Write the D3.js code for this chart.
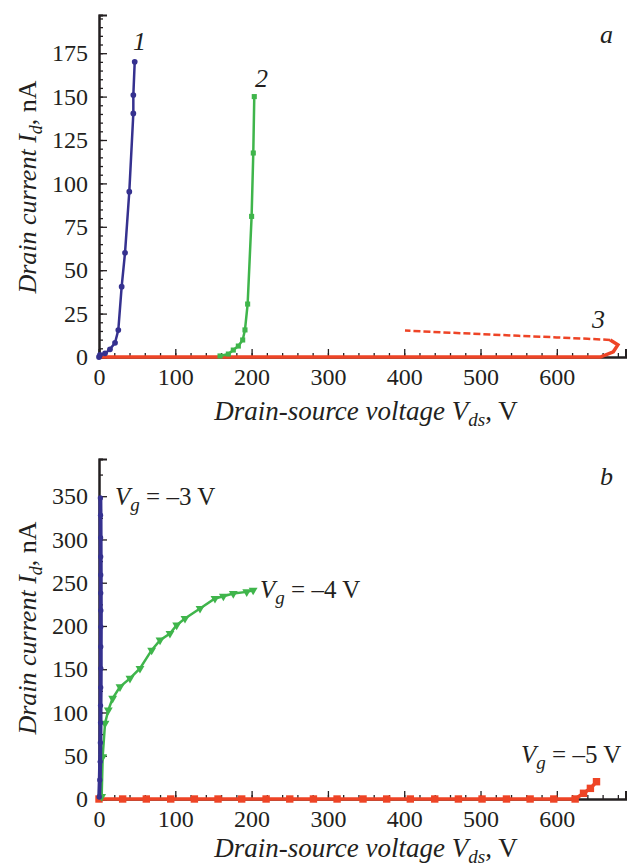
<!DOCTYPE html>
<html lang="en">
  <head>
    <meta charset="UTF-8" />
    <title>drain current vs drain-source voltage</title>
    <style>
      body { margin: 0; background: #fff; }
      text { font-family: "Liberation Serif", "Times New Roman", serif; fill: #231f20; }
    </style>
  </head>
  <body>
    <svg id="svg" width="629" height="867"></svg>

    <script src="https://d3js.org/d3.v7.min.js"></script>
    <script>
      // ---- panel a data (V, nA) ----
      const curve1V = [0, 1.3, 7.9, 14.4, 21, 25.3, 29.7, 34.1, 39.7, 45, 45, 46.8];
      const curve1I = [0, 1.2, 2.1, 4.4, 8.2, 15.5, 40.5, 60, 95.2, 140.3, 150.9, 170];
      const curve2V = [158.6, 169.5, 176, 182.6, 188.3, 191.3, 194.8, 200, 202.2, 203.5];
      const curve2I = [0.6, 1.7, 4, 6.3, 9.8, 15.6, 30.5, 81, 117.5, 150];
      const curve3V = [0, 100, 200, 300, 400, 500, 600, 657, 674, 680, 670];
      const curve3I = [0, 0, 0, 0, 0, 0, 0, 0, 3, 7, 9.8];
      const curve3BackV = [670, 640, 600, 550, 500, 450, 401];
      const curve3BackI = [9.8, 10.5, 11.3, 12.2, 13.2, 14.2, 15.2];

      // ---- panel b data (V, nA) ----
      const vg3V = [0.3, 1, 1.5, 1.8, 2, 2, 2.2, 2.3, 2.3, 2.4, 2.4, 2.3, 2.3, 2.2, 2.1, 2, 1.8];
      const vg3I = [2.3, 22, 43, 65, 88, 108, 129, 151, 176, 199, 218, 238, 259, 280, 302, 328, 348];
      const vg4V = [3.5, 4.8, 7.9, 12.2, 17.9, 27.5, 40.6, 53.7, 69, 80, 93, 101.8, 112.7, 132.4, 152, 163, 176, 193.6, 202];
      const vg4I = [2.7, 48.8, 87.4, 102.8, 116.3, 129.7, 139.4, 150.9, 172, 183.6, 191.3, 201, 208.7, 220.2, 231.8, 234.4, 237.5, 239.4, 241.3];
      const vg5V = [0, 31, 62, 94, 125, 156, 187, 219, 250, 281, 312, 346, 377, 408, 440, 471, 502, 534, 565, 596, 624, 635, 644, 652];
      const vg5I = [0, 0, 0, 0, 0, 0, 0, 0, 0, 0, 0, 0, 0, 0, 0, 0, 0, 0, 0, 0, 0, 6.6, 12.3, 20];

      const blue = "#35318f";
      const green = "#3fb54b";
      const red = "#ee4426";

      const svg = d3.select("#svg");
      const zip = (xs, ys) => xs.map((x, i) => [x, ys[i]]);

      function drawAxes(x, y, yMajor, yMinor, xMajor, xMinor) {
        const gx = svg.append("g").attr("transform", `translate(0,${y.range()[0]})`);
        gx.call(d3.axisBottom(x).tickValues(xMinor).tickSize(-4).tickFormat(""));
        gx.append("g").call(d3.axisBottom(x).tickValues(xMajor).tickSize(-8).tickPadding(11));
        const gy = svg.append("g").attr("transform", `translate(${x.range()[0]},0)`);
        gy.call(d3.axisLeft(y).tickValues(yMinor).tickSize(-4).tickFormat(""));
        gy.append("g").call(d3.axisLeft(y).tickValues(yMajor).tickSize(-8).tickPadding(11));
        svg.selectAll(".domain").attr("stroke", "#231f20").attr("stroke-width", 2);
        svg.selectAll(".tick line").attr("stroke", "#231f20").attr("stroke-width", 1.3);
        svg.selectAll(".tick text").style("font-size", "24px").style("font-family", "Liberation Serif").attr("fill", "#231f20");
      }

      function drawLine(x, y, pts, color, width, dash) {
        svg.append("path")
          .datum(pts)
          .attr("fill", "none")
          .attr("stroke", color)
          .attr("stroke-width", width)
          .attr("stroke-dasharray", dash || null)
          .attr("d", d3.line().x((d) => x(d[0])).y((d) => y(d[1])));
      }

      function drawMarks(x, y, pts, color, symbol, size, rot) {
        svg.append("g")
          .selectAll("path")
          .data(pts)
          .enter()
          .append("path")
          .attr("d", d3.symbol().type(symbol).size(size))
          .attr("fill", color)
          .attr("transform", (d) => `translate(${x(d[0])},${y(d[1])}) rotate(${rot || 0})`);
      }

      function xTitle(yPos) {
        const t = svg.append("text").attr("x", 366).attr("y", yPos)
          .attr("text-anchor", "middle").style("font-size", "27px");
        t.append("tspan").attr("font-style", "italic").text("Drain-source voltage V");
        t.append("tspan").attr("font-style", "italic").attr("font-size", "19px").attr("dy", 6).text("ds");
        t.append("tspan").attr("dy", -6).text(", V");
      }

      function yTitle(yPos) {
        const t = svg.append("text")
          .attr("transform", `translate(36,${yPos}) rotate(-90)`)
          .attr("text-anchor", "middle").style("font-size", "26px");
        t.append("tspan").attr("font-style", "italic").text("Drain current I");
        t.append("tspan").attr("font-style", "italic").attr("font-size", "18px").attr("dy", 6).text("d");
        t.append("tspan").attr("dy", -6).text(", nA");
      }

      function vgLabel(xPos, yPos, value) {
        const t = svg.append("text").attr("x", xPos).attr("y", yPos).style("font-size", "25px");
        t.append("tspan").attr("font-style", "italic").text("V");
        t.append("tspan").attr("font-style", "italic").attr("font-size", "19px").attr("dy", 6).text("g");
        t.append("tspan").attr("dy", -6).text(" = \u2013" + value + " V");
      }

      function italicText(xPos, yPos, s) {
        svg.append("text").attr("x", xPos).attr("y", yPos)
          .attr("font-style", "italic").style("font-size", "26px").text(s);
      }

      const xTicks = [0, 100, 200, 300, 400, 500, 600];
      const xMinorTicks = d3.range(0, 681, 20);

      // ---------- panel a ----------
      const xA = d3.scaleLinear().domain([0, 690]).range([99, 625.5]);
      const yA = d3.scaleLinear().domain([0, 197]).range([357, 15]);
      drawAxes(xA, yA, d3.range(0, 176, 25), d3.range(0, 196, 5), xTicks, xMinorTicks);
      drawLine(xA, yA, zip(curve3BackV, curve3BackI), red, 2.5, "7,3");
      drawLine(xA, yA, zip(curve3V, curve3I), red, 3.5);
      drawLine(xA, yA, zip(curve1V, curve1I), blue, 2.5);
      drawMarks(xA, yA, zip(curve1V, curve1I), blue, d3.symbolCircle, 26);
      drawLine(xA, yA, zip(curve2V, curve2I), green, 2.5);
      drawMarks(xA, yA, zip(curve2V, curve2I), green, d3.symbolSquare, 26);
      xTitle(420);
      yTitle(187);
      italicText(133, 50, "1");
      italicText(255, 87, "2");
      italicText(592, 328, "3");
      italicText(600, 43, "a");

      // ---------- panel b ----------
      const xB = d3.scaleLinear().domain([0, 690]).range([99, 625.5]);
      const yB = d3.scaleLinear().domain([0, 393]).range([799, 459]);
      drawAxes(xB, yB, d3.range(0, 351, 50), d3.range(0, 376, 25), xTicks, xMinorTicks);
      drawLine(xB, yB, zip(vg5V, vg5I), red, 3.5);
      drawMarks(xB, yB, zip(vg5V, vg5I), red, d3.symbolSquare, 55);
      drawLine(xB, yB, zip(vg4V, vg4I), green, 2.5);
      drawMarks(xB, yB, zip(vg4V, vg4I), green, d3.symbolTriangle, 34, 180);
      drawLine(xB, yB, zip(vg3V, vg3I), blue, 4);
      drawMarks(xB, yB, zip(vg3V, vg3I), blue, d3.symbolCircle, 22);
      xTitle(857);
      yTitle(628);
      vgLabel(115, 505, 3);
      vgLabel(260, 598, 4);
      vgLabel(521, 763, 5);
      italicText(600, 485, "b");
    </script>
  </body>
</html>
